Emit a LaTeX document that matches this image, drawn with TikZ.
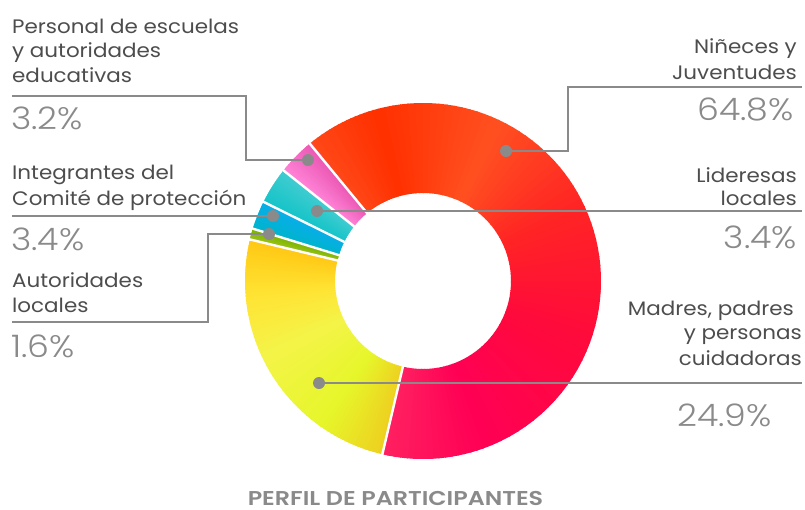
\documentclass[tikz,border=0pt]{standalone}
\usepackage{fontspec}
\setmainfont{Poppins}[FakeStretch=1.1]
\newfontfamily\lightfont{Poppins Light}[FakeStretch=1.12]
\newfontfamily\semifont{Poppins SemiBold}[FakeStretch=1.19]
\definecolor{lblc}{HTML}{4D4D4D}
\definecolor{pctc}{HTML}{8A8A8A}
\definecolor{linec}{HTML}{8A8A8A}
\definecolor{rA}{HTML}{FF4818}
\definecolor{rB}{HTML}{FF3000}
\definecolor{rC}{HTML}{FF5020}
\definecolor{rD}{HTML}{FF2424}
\definecolor{rE}{HTML}{FF0A3C}
\definecolor{rF}{HTML}{FF0055}
\definecolor{rG}{HTML}{FF2060}
\definecolor{yA}{HTML}{EED020}
\definecolor{yB}{HTML}{E6F62A}
\definecolor{yC}{HTML}{F4F448}
\definecolor{yD}{HTML}{FFE434}
\definecolor{yE}{HTML}{FFC814}
\definecolor{gA}{HTML}{9CC418}
\definecolor{gB}{HTML}{78B400}
\definecolor{bA}{HTML}{00B4CC}
\definecolor{bB}{HTML}{08AEEA}
\definecolor{tA}{HTML}{14C4C8}
\definecolor{tB}{HTML}{40CCD0}
\definecolor{pA}{HTML}{FF84D8}
\definecolor{pB}{HTML}{EC58B4}
\newcommand{\sector}[5]{%
  \fill[#5] (#1:#4) arc[start angle=#1,end angle=#2,radius=#4] -- (#2:#3) arc[start angle=#2,end angle=#1,radius=#3] -- cycle;}
\newcommand{\ringpart}[3]{\sector{#1}{#2}{88}{178}{#3}}
\newcommand{\gradpart}[4]{%
  \foreach \k in {0,...,15}{%
    \pgfmathsetmacro\sa{#1+(#2-#1)*\k/16}%
    \pgfmathsetmacro\ea{#1+(#2-#1)*(\k+1)/16+sign(#2-#1)*0.5}%
    \pgfmathsetmacro\pc{100-6.25*\k-3.125}%
    \ringpart{\sa}{\ea}{fill={#3!\pc!#4}}%
  }}
\tikzset{
  lbl/.style={font=\fontsize{19.5}{24}\selectfont, text=lblc, inner sep=0pt},
  pct/.style={font=\lightfont\fontsize{31}{34}\selectfont, text=pctc, inner sep=0pt},
  ttl/.style={font=\semifont\fontsize{20}{22}\selectfont, text=pctc, inner sep=0pt, text depth=0pt},
  dot/.style={circle, fill=linec, inner sep=0pt, minimum size=12pt},
  conn/.style={draw=linec, line width=2.6pt},
  sep/.style={draw=white, line width=2.4pt}
}
\begin{document}
\begin{tikzpicture}[x=1pt,y=-1pt]
\useasboundingbox (0,0) rectangle (805,509);
% donut
\begin{scope}[shift={(423,281)},yscale=-1]
  % Ninieces y Juventudes (red)
  \gradpart{129.5}{105}{rA}{rB}
  \gradpart{105}{65}{rB}{rC}
  \gradpart{65}{25}{rC}{rD}
  \gradpart{25}{-20}{rD}{rE}
  \gradpart{-20}{-70}{rE}{rF}
  \gradpart{-70}{-103.2}{rF}{rG}
  % Madres, padres (yellow)
  \gradpart{256.8}{235}{yA}{yB}
  \gradpart{235}{205}{yB}{yC}
  \gradpart{205}{185}{yC}{yD}
  \gradpart{185}{166.5}{yD}{yE}
  % Autoridades locales (green)
  \gradpart{166.5}{162.9}{gA}{gB}
  % Integrantes (blue)
  \gradpart{162.9}{153.6}{bA}{bB}
  % Lideresas (teal)
  \gradpart{153.6}{141.6}{tA}{tB}
  % Personal (pink)
  \gradpart{141.6}{129.5}{pA}{pB}
  % separators
  \foreach \a in {256.8,166.5,162.9,153.6,141.6,129.5}
    \draw[sep] (\a:87) -- (\a:180);
\end{scope}
% dots
\node[dot] (dNin) at (506,151) {};
\node[dot] (dPer) at (308,160) {};
\node[dot] (dLid) at (317,211) {};
\node[dot] (dInt) at (273,216) {};
\node[dot] (dAut) at (269,234) {};
\node[dot] (dMad) at (319,383) {};
% connector ends and corners
\coordinate (kNin) at (568,87);
\coordinate (eNin) at (802,87);
\coordinate (kPer) at (246,96);
\coordinate (ePer) at (12,96);
\coordinate (eLid) at (802,211);
\coordinate (eInt) at (12,216);
\coordinate (kAut) at (208,322);
\coordinate (eAut) at (12,322);
\coordinate (eMad) at (802,383);
\draw[conn] (dNin.center) -| (kNin) -- (eNin);
\draw[conn] (dPer.center) -| (kPer) -- (ePer);
\draw[conn] (dLid.center) -- (eLid);
\draw[conn] (dInt.center) -- (eInt);
\draw[conn] (dAut.center) -| (kAut) -- (eAut);
\draw[conn] (dMad.center) -- (eMad);
% left labels
\node[lbl, anchor=base west] (tPer1) at (12,33) {Personal de escuelas};
\node[lbl, anchor=base west] (tPer2) at (12,57.5) {y autoridades};
\node[lbl, anchor=base west] (tPer3) at (12,82) {educativas};
\node[pct, anchor=base west] (pPer) at (11,129.5) {3.2\%};
\node[lbl, anchor=base west] (tInt1) at (12,179.5) {Integrantes del};
\node[lbl, anchor=base west] (tInt2) at (12,205) {Comité de protección};
\node[pct, anchor=base west] (pInt) at (11,250) {3.4\%};
\node[lbl, anchor=base west] (tAut1) at (12,287.5) {Autoridades};
\node[lbl, anchor=base west] (tAut2) at (12,312) {locales};
\node[pct, anchor=base west] (pAut) at (11,357) {1.6\%};
% right labels
\node[lbl, anchor=base east] (tNin1) at (797,53.5) {Niñeces y};
\node[lbl, anchor=base east] (tNin2) at (797,79.5) {Juventudes};
\node[pct, anchor=base east] (pNin) at (794,120) {64.8\%};
\node[lbl, anchor=base east] (tLid1) at (797,182) {Lideresas};
\node[lbl, anchor=base east] (tLid2) at (797,205.5) {locales};
\node[pct, anchor=base east] (pLid) at (797,248) {3.4\%};
\node[lbl, anchor=base east] (tMad1) at (794,315) {Madres, padres};
\node[lbl, anchor=base east] (tMad2) at (802,339.5) {y personas};
\node[lbl, anchor=base east] (tMad3) at (802,365) {cuidadoras};
\node[pct, anchor=base] (pMad) at (724.5,426) {24.9\%};
% title
\node[ttl, anchor=base] (title) at (395.5,505) {PERFIL DE PARTICIPANTES};
\end{tikzpicture}
\end{document}
